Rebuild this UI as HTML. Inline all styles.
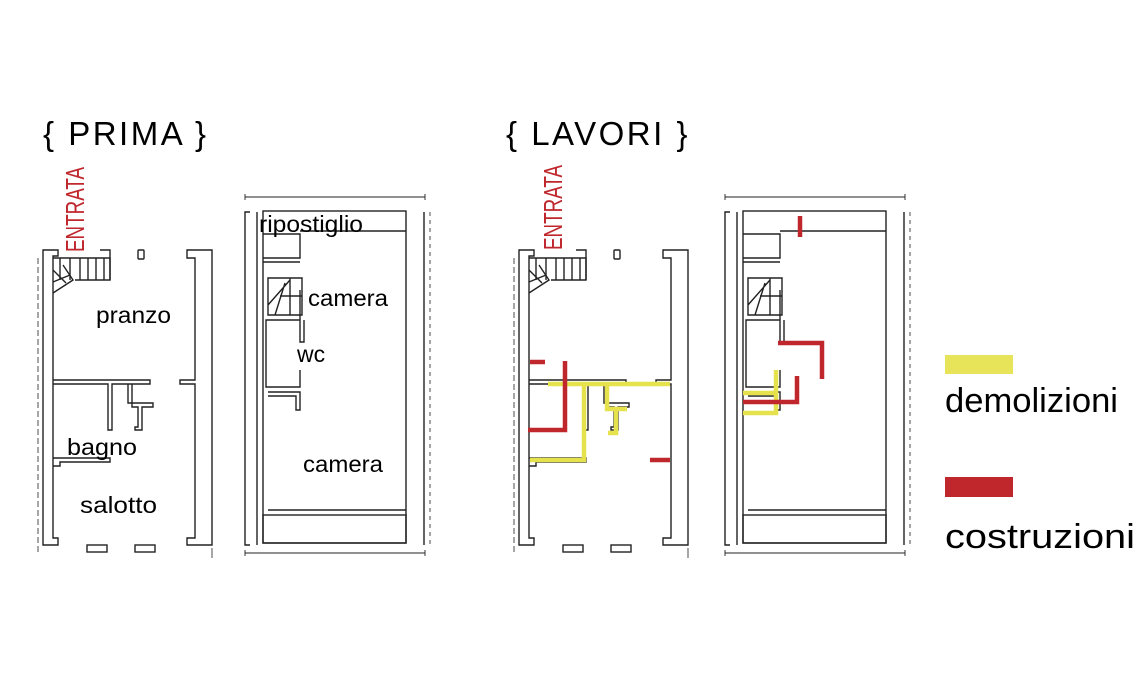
<!DOCTYPE html>
<html><head><meta charset="utf-8"><style>
html,body{margin:0;padding:0;background:#fff;width:1140px;height:680px;overflow:hidden}
svg{display:block}
text{font-family:"Liberation Sans",sans-serif}
</style></head><body>
<svg width="1140" height="680" viewBox="0 0 1140 680" xmlns="http://www.w3.org/2000/svg">
<defs>
<g id="ground" fill="none" stroke="#222" stroke-width="1.4">
  <line x1="38" y1="258" x2="38" y2="555" stroke-dasharray="6,3" stroke-width="0.8"/>
  <path d="M43,250 H58 V256 H53 V538 H58 V545 H43 Z"/>
  <path d="M100,250 H110 V280"/>
  <rect x="138" y="250" width="6" height="9" rx="1"/>
  <path d="M53,258 H110 V280 H75 M60,258 V280 M70,258 V280 M80,258 V280 M88,258 V280 M96,258 V280 M104,258 V280"/>
  <path d="M53,293 L73,280 L63,265 M53,282 L70,275 M53,270 L66,283"/>
  <path d="M187,250 H212 V545 H187 V538 H195 V384 H180 V380 H195 V258 H187 Z"/>
  <path d="M53,380 H150 V384 H112 V430 H108 V384 H53"/>
  <path d="M128,384 V403 H153 V407 H142 V430 H135 V427 H138 V407 H132 V384"/>
  <path d="M53,458 H110 V462 H60 V466 H53"/>
  <rect x="87" y="545" width="20" height="7"/>
  <rect x="135" y="545" width="20" height="7"/>
  <line x1="212" y1="548" x2="212" y2="558" stroke-width="0.8"/>
</g>
<g id="first" fill="none" stroke="#222" stroke-width="1.4">
  <path d="M245,197 H425 M245,194 V200 M425,194 V200" stroke-width="0.9"/>
  <path d="M245,553 H425 M245,550 V556 M425,550 V556" stroke-width="0.9"/>
  <path d="M250,212 H245 V545 H250"/>
  <line x1="257" y1="212" x2="257" y2="545"/>
  <line x1="424" y1="212" x2="424" y2="545"/>
  <line x1="430" y1="212" x2="430" y2="545" stroke-dasharray="4,4" stroke-width="0.8"/>
  <rect x="263" y="211" width="143" height="332"/>
  <path d="M300,231 H406 M263,234 H300 V258 H263 M300,234 V258"/>
  <path d="M263,262 H300"/>
  <path d="M268,278 H302 V315 H268 Z M290,278 V315 M280,296 H302 M268,305 L290,280 M275,315 L285,283 M300,290 V320"/>
  <path d="M300,320 H266 V387 H300 V370 M300,320 V342 H304 V320"/>
  <path d="M268,392 H300 V410 H296 V396 H268"/>
  <line x1="268" y1="510" x2="406" y2="510"/>
  <rect x="263" y="515" width="143" height="28"/>
</g>
</defs>

<text x="43" y="145" font-size="33" fill="#000" letter-spacing="2.5">{ PRIMA }</text>
<text x="506" y="145" font-size="33" fill="#000" letter-spacing="2.5">{ LAVORI }</text>

<use href="#ground"/>
<use href="#first"/>
<use href="#ground" transform="translate(476,0)"/>
<use href="#first" transform="translate(480,0)"/>

<text transform="translate(84,252) rotate(-90)" font-size="26" fill="#c0272d" textLength="85" lengthAdjust="spacingAndGlyphs">ENTRATA</text>
<text transform="translate(562,250) rotate(-90)" font-size="26" fill="#c0272d" textLength="85" lengthAdjust="spacingAndGlyphs">ENTRATA</text>

<g font-size="23" fill="#000">
<text x="96" y="323" textLength="75" lengthAdjust="spacingAndGlyphs">pranzo</text>
<text x="67" y="455" textLength="70" lengthAdjust="spacingAndGlyphs">bagno</text>
<text x="80" y="513" textLength="77" lengthAdjust="spacingAndGlyphs">salotto</text>
<text x="259" y="232" textLength="104" lengthAdjust="spacingAndGlyphs">ripostiglio</text>
<text x="308" y="306" textLength="80" lengthAdjust="spacingAndGlyphs">camera</text>
<text x="297" y="362">wc</text>
<text x="303" y="472" textLength="80" lengthAdjust="spacingAndGlyphs">camera</text>
</g>

<g fill="none" stroke-width="4.5" stroke-linecap="butt">
  <path d="M548,384 H670 M584,384 V460 H530 M607,384 V409 H627 M616,409 V433 H608" stroke="#e6e24d"/>
  <path d="M530,362 H545 M565,361 V430 H528 M650,460 H670" stroke="#c0272d"/>
  <path d="M800,216 V237 M778,343 H822 V379" stroke="#c0272d"/>
  <path d="M776,370 V413 H743 M776,393 H743" stroke="#e6e24d"/>
  <path d="M743,402 H797 V376" stroke="#c0272d"/>
</g>

<rect x="945" y="355" width="68" height="19" fill="#e8e45a"/>
<text x="945" y="412" font-size="34" fill="#000" textLength="173" lengthAdjust="spacingAndGlyphs">demolizioni</text>
<rect x="945" y="477" width="68" height="20" fill="#c0272d"/>
<text x="945" y="548" font-size="34" fill="#000" textLength="190" lengthAdjust="spacingAndGlyphs">costruzioni</text>
</svg>
</body></html>
